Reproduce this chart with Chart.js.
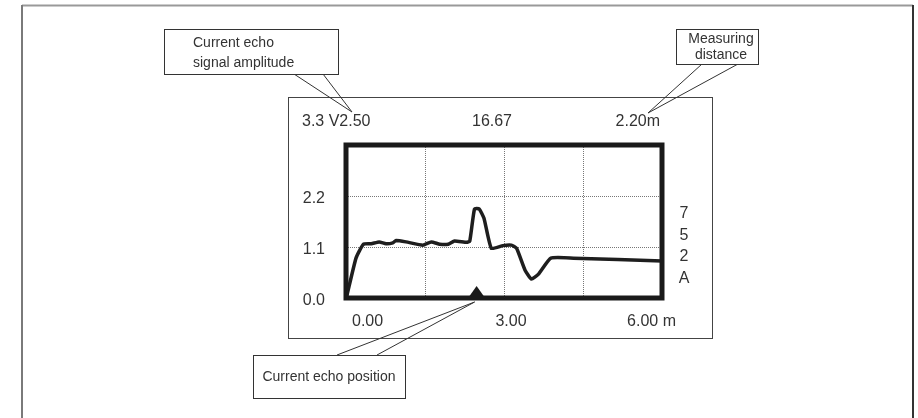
<!DOCTYPE html>
<html>
<head>
<meta charset="utf-8">
<script src="https://cdn.jsdelivr.net/npm/chart.js@4/dist/chart.umd.min.js"></script>
<style>
html,body{margin:0;padding:0;background:#fff;}
#c{display:block;}
</style>
</head>
<body>
<canvas id="c" width="918" height="418"></canvas>
<script>
// ---- data ----
const distance = [0, 0.01, 0.19, 0.33, 0.48, 0.63, 0.76, 0.89, 0.95, 1.14, 1.46, 1.62, 1.78, 1.94, 2.06, 2.29, 2.35, 2.44, 2.53, 2.62, 2.76, 2.98, 3.14, 3.24, 3.40, 3.52, 3.65, 3.89, 4.32, 6.0];
const amplitude = [0, 0.02, 0.86, 1.16, 1.17, 1.21, 1.17, 1.19, 1.24, 1.21, 1.14, 1.21, 1.16, 1.16, 1.23, 1.20, 1.23, 1.92, 1.92, 1.72, 1.07, 1.13, 1.14, 1.07, 0.60, 0.41, 0.51, 0.86, 0.86, 0.80];
const echoPosition = [2.48];
const yTickValues = [0, 1.1, 2.2];
const yTickLabels = ['0.0', '1.1', '2.2'];
const xTickValues = [0, 3, 6];
const xTickLabels = ['0.00', '3.00', '6.00 m'];
const headerTexts = ['3.3 V2.50', '16.67', '2.20m'];
const sideTexts = ['7', '5', '2', 'A'];
const callouts = [
  ['Current echo', 'signal amplitude'],
  ['Measuring', 'distance'],
  ['Current echo position']
];

const FONT = '"Liberation Sans", Arial, sans-serif';
const TXT = '#333';

const overlay = {
  id: 'overlay',
  beforeDraw(chart) {
    const ctx = chart.ctx;
    ctx.save();
    ctx.fillStyle = '#fff';
    ctx.fillRect(0, 0, chart.width, chart.height);
    // outer frame (open at bottom)
    ctx.lineWidth = 2;
    ctx.strokeStyle = '#999';
    ctx.beginPath(); ctx.moveTo(22, 5.5); ctx.lineTo(913, 5.5); ctx.stroke();
    ctx.strokeStyle = '#7a7a7a';
    ctx.beginPath(); ctx.moveTo(22, 5); ctx.lineTo(22, 418); ctx.stroke();
    ctx.strokeStyle = '#333';
    ctx.beginPath(); ctx.moveTo(913, 5); ctx.lineTo(913, 418); ctx.stroke();
    // display box
    ctx.lineWidth = 1;
    ctx.strokeStyle = '#444';
    ctx.strokeRect(288.5, 97.5, 424, 241);
    ctx.restore();
  },
  afterDatasetsDraw(chart) {
    const ctx = chart.ctx;
    const xs = chart.scales.x, ys = chart.scales.y;
    const a = chart.chartArea;
    ctx.save();
    // echo position marker
    echoPosition.forEach(p => {
      const px = xs.getPixelForValue(p);
      ctx.fillStyle = '#1a1a1a';
      ctx.beginPath();
      ctx.moveTo(px - 8.5, a.bottom);
      ctx.lineTo(px + 8.5, a.bottom);
      ctx.lineTo(px, a.bottom - 12);
      ctx.closePath();
      ctx.fill();
    });
    // thick frame of plot area
    ctx.lineWidth = 5;
    ctx.strokeStyle = '#1a1a1a';
    ctx.strokeRect(a.left, a.top, a.right - a.left, a.bottom - a.top);

    ctx.fillStyle = TXT;
    ctx.font = '16px ' + FONT;
    ctx.textBaseline = 'middle';
    // y labels
    ctx.textAlign = 'right';
    yTickValues.forEach((v, i) => {
      ctx.fillText(yTickLabels[i], a.left - 21, ys.getPixelForValue(v) + 3);
    });
    // x labels
    const xl = xTickValues.map(v => xs.getPixelForValue(v));
    ctx.textAlign = 'left';
    ctx.fillText(xTickLabels[0], xl[0] + 6, 322);
    ctx.textAlign = 'center';
    ctx.fillText(xTickLabels[1], xl[1] + 7, 322);
    ctx.textAlign = 'right';
    ctx.fillText(xTickLabels[2], xl[2] + 14, 322);
    // header line
    ctx.textAlign = 'left';
    ctx.fillText(headerTexts[0], 302, 122);
    ctx.textAlign = 'center';
    ctx.fillText(headerTexts[1], 492, 122);
    ctx.textAlign = 'right';
    ctx.fillText(headerTexts[2], 660, 122);
    // side column
    ctx.textAlign = 'center';
    sideTexts.forEach((t, i) => ctx.fillText(t, 684, 214 + i * 21.5));

    // callouts
    ctx.lineWidth = 1;
    ctx.strokeStyle = '#333';
    function pointer(x1, y1, x2, y2, tx, ty) {
      ctx.beginPath();
      ctx.moveTo(x1, y1); ctx.lineTo(tx, ty); ctx.lineTo(x2, y2);
      ctx.stroke();
    }
    function box(x, y, w, h) {
      ctx.fillStyle = '#fff';
      ctx.fillRect(x, y, w, h);
      ctx.strokeRect(x + 0.5, y + 0.5, w, h);
    }
    pointer(294, 74, 323, 74, 352, 112);
    pointer(702, 64, 738, 64, 648, 113);
    pointer(337, 355, 377, 355, xs.getPixelForValue(echoPosition[0]) - 2, a.bottom + 4);
    box(164, 29, 174, 45);
    box(676, 29, 82, 35);
    box(253, 355, 152, 43);
    ctx.fillStyle = TXT;
    ctx.font = '14px ' + FONT;
    ctx.textAlign = 'left';
    ctx.fillText(callouts[0][0], 193, 43);
    ctx.fillText(callouts[0][1], 193, 63);
    ctx.textAlign = 'center';
    ctx.fillText(callouts[1][0], 721, 39);
    ctx.fillText(callouts[1][1], 721, 55);
    ctx.fillText(callouts[2][0], 329, 377);
    ctx.restore();
  }
};

new Chart(document.getElementById('c'), {
  type: 'line',
  data: {
    datasets: [{
      data: distance.map((d, i) => ({x: d, y: amplitude[i]})),
      borderColor: '#1e1e1e',
      borderWidth: 3.5,
      borderJoinStyle: 'round',
      borderCapStyle: 'round',
      pointRadius: 0,
      tension: 0.15,
      fill: false
    }]
  },
  options: {
    responsive: false,
    animation: false,
    devicePixelRatio: 1,
    layout: { padding: { left: 346, top: 145, right: 256, bottom: 120 } },
    plugins: { legend: { display: false }, tooltip: { enabled: false } },
    scales: {
      x: {
        type: 'linear', min: 0, max: 6,
        ticks: { display: false, stepSize: 1.5 },
        grid: { drawTicks: false, color: '#777', lineWidth: 1, tickBorderDash: [1, 1] },
        border: { display: false, dash: [1, 1] }
      },
      y: {
        type: 'linear', min: 0, max: 3.3,
        ticks: { display: false, stepSize: 1.1 },
        grid: { drawTicks: false, color: '#777', lineWidth: 1 },
        border: { display: false, dash: [1, 1] }
      }
    }
  },
  plugins: [overlay]
});
</script>
</body>
</html>
